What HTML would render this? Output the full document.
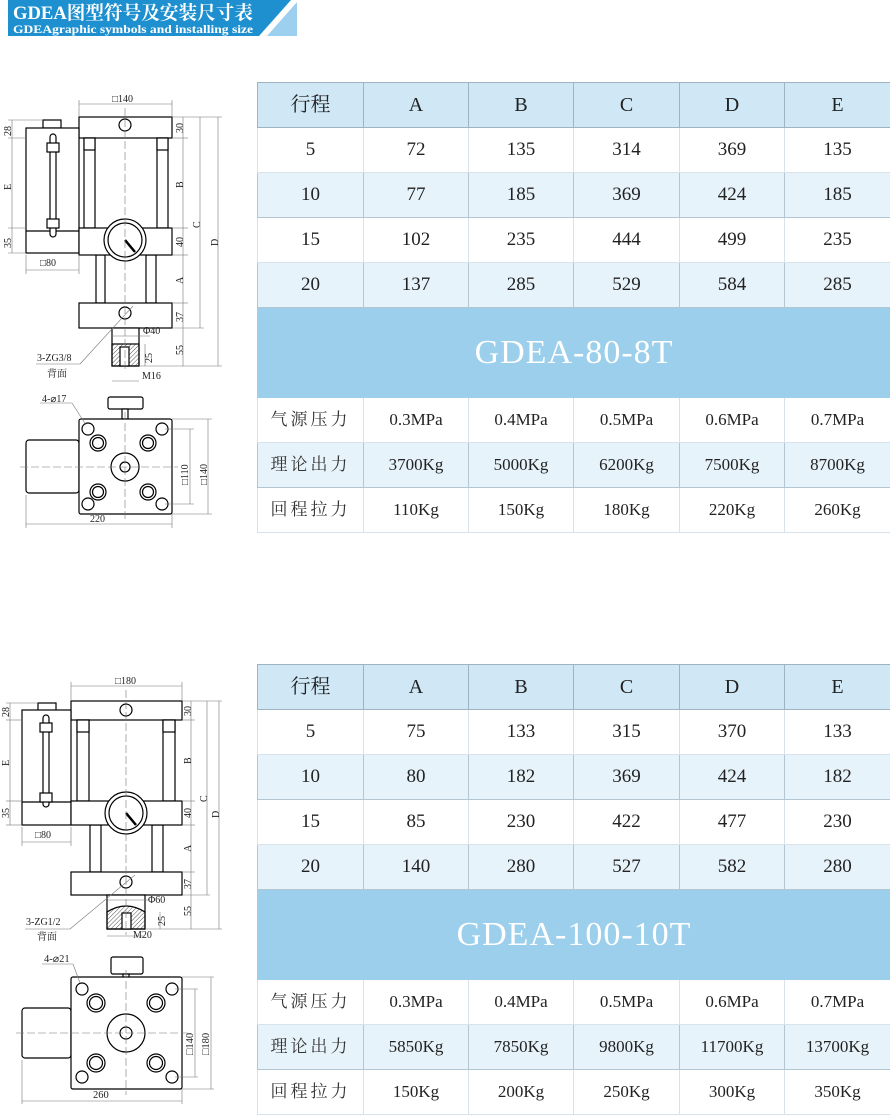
<!DOCTYPE html>
<html><head><meta charset="utf-8">
<style>
body{margin:0;background:#fff;width:890px;height:1115px;position:relative;overflow:hidden;font-family:"Liberation Serif","Noto Serif CJK SC",serif;}
.banner{position:absolute;left:0;top:0}
table{position:absolute;left:257px;border-collapse:collapse;table-layout:fixed;width:633px}
td{height:44px;padding:0;text-align:center;font-size:19px;color:#222;border:1px solid #d8e2ea;font-family:"Liberation Serif","Noto Serif CJK SC",serif;line-height:20px}
tr.h td{background:#d0e8f6;border-color:#9fb3c3;font-size:20px}
tr.a td{background:#e7f3fb;border-color:#b5c6d3}
tr.t td{background:#9bcfeb;height:89px;color:#fff;font-size:34px;letter-spacing:1px;border-color:#9bcfeb;line-height:36px}
td.c{font-size:19px;letter-spacing:3px;color:#333}
tr.b td{font-size:17px}
svg text{font-family:"Liberation Serif","Noto Serif CJK SC",serif;fill:#222}
</style></head><body>
<svg class="banner" width="300" height="40">
<polygon points="8,0 291,0 259,36 8,36" fill="#1f90cf"/>
<polygon points="297,2 297,36 267,36" fill="#9dd0ee"/>
<text x="13" y="19" font-size="19" font-weight="bold" style="fill:#fff" textLength="240" lengthAdjust="spacingAndGlyphs">GDEA图型符号及安装尺寸表</text>
<text x="13" y="33" font-size="12" font-weight="bold" style="fill:#fff" textLength="240" lengthAdjust="spacingAndGlyphs">GDEAgraphic symbols and installing size</text>
</svg>

<table style="top:82px">
<colgroup><col style="width:106px"><col style="width:105px"><col style="width:105px"><col style="width:106px"><col style="width:105px"><col style="width:106px"></colgroup>
<tr class="h"><td>行程</td><td>A</td><td>B</td><td>C</td><td>D</td><td>E</td></tr>
<tr><td>5</td><td>72</td><td>135</td><td>314</td><td>369</td><td>135</td></tr>
<tr class="a"><td>10</td><td>77</td><td>185</td><td>369</td><td>424</td><td>185</td></tr>
<tr><td>15</td><td>102</td><td>235</td><td>444</td><td>499</td><td>235</td></tr>
<tr class="a"><td>20</td><td>137</td><td>285</td><td>529</td><td>584</td><td>285</td></tr>
<tr class="t"><td colspan="6">GDEA-80-8T</td></tr>
<tr class="b"><td class="c">气源压力</td><td>0.3MPa</td><td>0.4MPa</td><td>0.5MPa</td><td>0.6MPa</td><td>0.7MPa</td></tr>
<tr class="a b"><td class="c">理论出力</td><td>3700Kg</td><td>5000Kg</td><td>6200Kg</td><td>7500Kg</td><td>8700Kg</td></tr>
<tr class="b"><td class="c">回程拉力</td><td>110Kg</td><td>150Kg</td><td>180Kg</td><td>220Kg</td><td>260Kg</td></tr>
</table>

<table style="top:664px">
<colgroup><col style="width:106px"><col style="width:105px"><col style="width:105px"><col style="width:106px"><col style="width:105px"><col style="width:106px"></colgroup>
<tr class="h"><td>行程</td><td>A</td><td>B</td><td>C</td><td>D</td><td>E</td></tr>
<tr><td>5</td><td>75</td><td>133</td><td>315</td><td>370</td><td>133</td></tr>
<tr class="a"><td>10</td><td>80</td><td>182</td><td>369</td><td>424</td><td>182</td></tr>
<tr><td>15</td><td>85</td><td>230</td><td>422</td><td>477</td><td>230</td></tr>
<tr class="a"><td>20</td><td>140</td><td>280</td><td>527</td><td>582</td><td>280</td></tr>
<tr class="t"><td colspan="6">GDEA-100-10T</td></tr>
<tr class="b"><td class="c">气源压力</td><td>0.3MPa</td><td>0.4MPa</td><td>0.5MPa</td><td>0.6MPa</td><td>0.7MPa</td></tr>
<tr class="a b"><td class="c">理论出力</td><td>5850Kg</td><td>7850Kg</td><td>9800Kg</td><td>11700Kg</td><td>13700Kg</td></tr>
<tr class="b"><td class="c">回程拉力</td><td>150Kg</td><td>200Kg</td><td>250Kg</td><td>300Kg</td><td>350Kg</td></tr>
</table>

<svg style="position:absolute;left:0;top:0" width="250" height="1115">
<defs><pattern id="hx" width="3" height="3" patternUnits="userSpaceOnUse" patternTransform="rotate(45)"><line x1="0" y1="0" x2="0" y2="3" stroke="#555" stroke-width="1"/></pattern></defs>
<g stroke="#000" fill="#fff" stroke-width="1.2">
<rect x="79" y="117" width="93" height="21"/>
<rect x="43" y="120" width="18" height="8"/>
<rect x="26" y="128" width="53" height="125"/>
<line x1="26" y1="231" x2="79" y2="231"/>
<rect x="50" y="134" width="6" height="103" rx="3"/>
<rect x="47" y="143" width="12" height="9"/><rect x="47" y="219" width="12" height="9"/>
<rect x="84" y="138" width="11" height="90"/><rect x="84" y="138" width="11" height="12"/>
<rect x="157" y="138" width="11" height="90"/><rect x="157" y="138" width="11" height="12"/>
<rect x="96" y="255" width="9" height="48"/><rect x="146" y="255" width="10" height="48"/>
<rect x="79" y="228" width="93" height="27"/>
<circle cx="125" cy="240" r="21"/><circle cx="125" cy="240" r="17"/>
<rect x="79" y="303" width="93" height="25"/>
<rect x="112" y="328" width="27" height="38"/>
<rect x="112" y="344" width="27" height="22" fill="url(#hx)"/>
<rect x="120" y="347" width="9" height="19"/>
<circle cx="125" cy="125" r="6"/><circle cx="125" cy="313" r="6"/>
</g>
<line x1="125" y1="240" x2="135" y2="252" stroke="#000" stroke-width="2.5"/>
<g stroke="#777" stroke-width="0.6" fill="none">
<line x1="125" y1="108" x2="125" y2="372" stroke-dasharray="8,3"/>
<line x1="79" y1="104" x2="172" y2="104"/><line x1="79" y1="100" x2="79" y2="117"/><line x1="172" y1="100" x2="172" y2="117"/>
<line x1="183" y1="117" x2="183" y2="366"/><line x1="200" y1="117" x2="200" y2="328"/><line x1="218" y1="117" x2="218" y2="366"/>
<line x1="172" y1="117" x2="222" y2="117"/><line x1="172" y1="138" x2="188" y2="138"/><line x1="172" y1="228" x2="188" y2="228"/><line x1="172" y1="255" x2="188" y2="255"/><line x1="172" y1="303" x2="188" y2="303"/><line x1="172" y1="328" x2="204" y2="328"/><line x1="139" y1="366" x2="222" y2="366"/>
<line x1="12" y1="120" x2="12" y2="253"/><line x1="8" y1="120" x2="43" y2="120"/><line x1="8" y1="138" x2="26" y2="138"/><line x1="8" y1="228" x2="26" y2="228"/><line x1="8" y1="253" x2="26" y2="253"/>
<line x1="26" y1="270" x2="79" y2="270"/><line x1="26" y1="255" x2="26" y2="274"/><line x1="79" y1="255" x2="79" y2="274"/>
<line x1="112" y1="336" x2="150" y2="336"/><line x1="112" y1="381" x2="139" y2="381"/><line x1="145" y1="344" x2="145" y2="366"/>
<line x1="36" y1="364" x2="80" y2="364"/><line x1="80" y1="364" x2="133" y2="306"/>
</g>
<g font-size="10">
<text x="112" y="102">□140</text>
<text x="40" y="266">□80</text>
<text x="37" y="361">3-ZG3/8</text>
<text x="47" y="377">背面</text>
<text x="143" y="334">Φ40</text>
<text x="142" y="379">M16</text>
<text transform="translate(11,136) rotate(-90)">28</text>
<text transform="translate(11,190) rotate(-90)">E</text>
<text transform="translate(11,248) rotate(-90)">35</text>
<text transform="translate(183,133) rotate(-90)">30</text>
<text transform="translate(183,188) rotate(-90)">B</text>
<text transform="translate(183,247) rotate(-90)">40</text>
<text transform="translate(183,284) rotate(-90)">A</text>
<text transform="translate(183,322) rotate(-90)">37</text>
<text transform="translate(183,355) rotate(-90)">55</text>
<text transform="translate(152,363) rotate(-90)">25</text>
<text transform="translate(200,228) rotate(-90)">C</text>
<text transform="translate(218,246) rotate(-90)">D</text>
</g>
<g stroke="#000" fill="#fff" stroke-width="1.2">
<rect x="108" y="397" width="35" height="12" rx="2"/>
<rect x="122" y="409" width="6" height="10"/>
<rect x="26" y="440" width="53" height="53" rx="3"/>
<rect x="79" y="419" width="93" height="95" rx="2"/>
<circle cx="125" cy="467" r="14"/><circle cx="125" cy="467" r="5"/>
<circle cx="98" cy="443" r="8"/><circle cx="98" cy="443" r="5.5"/>
<circle cx="148" cy="443" r="8"/><circle cx="148" cy="443" r="5.5"/>
<circle cx="98" cy="492" r="8"/><circle cx="98" cy="492" r="5.5"/>
<circle cx="148" cy="492" r="8"/><circle cx="148" cy="492" r="5.5"/>
<circle cx="88" cy="429" r="6"/><circle cx="162" cy="429" r="6"/>
<circle cx="88" cy="504" r="6"/><circle cx="162" cy="504" r="6"/>
</g>
<g stroke="#777" stroke-width="0.6" fill="none">
<line x1="125" y1="412" x2="125" y2="520" stroke-dasharray="8,3"/><line x1="20" y1="467" x2="178" y2="467" stroke-dasharray="8,3"/>
<line x1="26" y1="524" x2="172" y2="524"/><line x1="26" y1="495" x2="26" y2="528"/><line x1="172" y1="514" x2="172" y2="528"/>
<line x1="190" y1="429" x2="190" y2="504"/><line x1="208" y1="419" x2="208" y2="514"/>
<line x1="172" y1="419" x2="212" y2="419"/><line x1="172" y1="514" x2="212" y2="514"/><line x1="165" y1="429" x2="194" y2="429"/><line x1="165" y1="504" x2="194" y2="504"/>
<line x1="40" y1="403" x2="72" y2="403"/><line x1="72" y1="403" x2="86" y2="425"/>
</g>
<g font-size="10">
<text x="42" y="402">4-⌀17</text>
<text x="90" y="522">220</text>
<text transform="translate(188,485) rotate(-90)">□110</text>
<text transform="translate(207,485) rotate(-90)">□140</text>
</g>

<g stroke="#000" fill="#fff" stroke-width="1.2">
<rect x="71" y="701" width="111" height="19"/>
<rect x="38" y="703" width="18" height="8"/>
<rect x="22" y="710" width="49" height="115"/>
<line x1="22" y1="802" x2="71" y2="802"/>
<rect x="43" y="715" width="6" height="92" rx="3"/>
<rect x="40" y="723" width="12" height="9"/><rect x="40" y="793" width="12" height="9"/>
<rect x="77" y="720" width="12" height="81"/><rect x="77" y="720" width="12" height="12"/>
<rect x="163" y="720" width="12" height="81"/><rect x="163" y="720" width="12" height="12"/>
<rect x="90" y="825" width="11" height="47"/><rect x="152" y="825" width="11" height="47"/>
<rect x="71" y="801" width="111" height="24"/>
<circle cx="126" cy="813" r="21"/><circle cx="126" cy="813" r="17"/>
<rect x="71" y="872" width="111" height="23"/>
<path d="M107,895 H145 V929 H107 Z"/>
<path d="M107,929 V912 Q126,900 145,912 V929 Z" fill="url(#hx)"/>
<rect x="122" y="913" width="9" height="16"/>
<circle cx="126" cy="710" r="6"/><circle cx="126" cy="882" r="6"/>
</g>
<line x1="126" y1="813" x2="136" y2="825" stroke="#000" stroke-width="2.5"/>
<g stroke="#777" stroke-width="0.6" fill="none">
<line x1="126" y1="690" x2="126" y2="935" stroke-dasharray="8,3"/>
<line x1="71" y1="686" x2="182" y2="686"/><line x1="71" y1="682" x2="71" y2="701"/><line x1="182" y1="682" x2="182" y2="701"/>
<line x1="191" y1="701" x2="191" y2="929"/><line x1="207" y1="701" x2="207" y2="895"/><line x1="219" y1="701" x2="219" y2="929"/>
<line x1="182" y1="701" x2="222" y2="701"/><line x1="182" y1="720" x2="195" y2="720"/><line x1="182" y1="801" x2="195" y2="801"/><line x1="182" y1="825" x2="195" y2="825"/><line x1="182" y1="872" x2="195" y2="872"/><line x1="182" y1="895" x2="210" y2="895"/><line x1="145" y1="929" x2="222" y2="929"/>
<line x1="10" y1="703" x2="10" y2="825"/><line x1="6" y1="703" x2="38" y2="703"/><line x1="6" y1="720" x2="22" y2="720"/><line x1="6" y1="801" x2="22" y2="801"/><line x1="6" y1="825" x2="22" y2="825"/>
<line x1="22" y1="842" x2="71" y2="842"/><line x1="22" y1="827" x2="22" y2="846"/><line x1="71" y1="827" x2="71" y2="846"/>
<line x1="107" y1="900" x2="150" y2="900"/><line x1="107" y1="936" x2="145" y2="936"/><line x1="160" y1="912" x2="160" y2="929"/>
<line x1="25" y1="929" x2="70" y2="929"/><line x1="70" y1="929" x2="135" y2="875"/>
</g>
<g font-size="10">
<text x="115" y="684">□180</text>
<text x="35" y="838">□80</text>
<text x="26" y="925">3-ZG1/2</text>
<text x="37" y="940">背面</text>
<text x="148" y="903">Φ60</text>
<text x="133" y="938">M20</text>
<text transform="translate(9,717) rotate(-90)">28</text>
<text transform="translate(9,766) rotate(-90)">E</text>
<text transform="translate(9,818) rotate(-90)">35</text>
<text transform="translate(191,716) rotate(-90)">30</text>
<text transform="translate(191,764) rotate(-90)">B</text>
<text transform="translate(191,818) rotate(-90)">40</text>
<text transform="translate(191,852) rotate(-90)">A</text>
<text transform="translate(191,889) rotate(-90)">37</text>
<text transform="translate(191,916) rotate(-90)">55</text>
<text transform="translate(165,926) rotate(-90)">25</text>
<text transform="translate(207,802) rotate(-90)">C</text>
<text transform="translate(219,818) rotate(-90)">D</text>
</g>
<g stroke="#000" fill="#fff" stroke-width="1.2">
<rect x="111" y="957" width="32" height="17" rx="2"/>
<rect x="123" y="974" width="6" height="4"/>
<rect x="22" y="1008" width="49" height="50" rx="3"/>
<rect x="71" y="977" width="111" height="112" rx="2"/>
<circle cx="126" cy="1033" r="19"/><circle cx="126" cy="1033" r="6"/>
<circle cx="96" cy="1003" r="9"/><circle cx="96" cy="1003" r="6.5"/>
<circle cx="156" cy="1003" r="9"/><circle cx="156" cy="1003" r="6.5"/>
<circle cx="96" cy="1063" r="9"/><circle cx="96" cy="1063" r="6.5"/>
<circle cx="156" cy="1063" r="9"/><circle cx="156" cy="1063" r="6.5"/>
<circle cx="82" cy="989" r="6"/><circle cx="172" cy="989" r="6"/>
<circle cx="82" cy="1077" r="6"/><circle cx="172" cy="1077" r="6"/>
</g>
<g stroke="#777" stroke-width="0.6" fill="none">
<line x1="126" y1="970" x2="126" y2="1095" stroke-dasharray="8,3"/><line x1="16" y1="1033" x2="188" y2="1033" stroke-dasharray="8,3"/>
<line x1="22" y1="1101" x2="182" y2="1101"/><line x1="22" y1="1060" x2="22" y2="1104"/><line x1="182" y1="1089" x2="182" y2="1104"/>
<line x1="195" y1="989" x2="195" y2="1077"/><line x1="211" y1="977" x2="211" y2="1089"/>
<line x1="182" y1="977" x2="214" y2="977"/><line x1="182" y1="1089" x2="214" y2="1089"/><line x1="175" y1="989" x2="198" y2="989"/><line x1="175" y1="1077" x2="198" y2="1077"/>
<line x1="42" y1="964" x2="73" y2="964"/><line x1="73" y1="964" x2="80" y2="983"/>
</g>
<g font-size="10.5">
<text x="44" y="962">4-⌀21</text>
<text x="93" y="1098">260</text>
<text transform="translate(193,1055) rotate(-90)">□140</text>
<text transform="translate(209,1055) rotate(-90)">□180</text>
</g>
</svg>
</body></html>
